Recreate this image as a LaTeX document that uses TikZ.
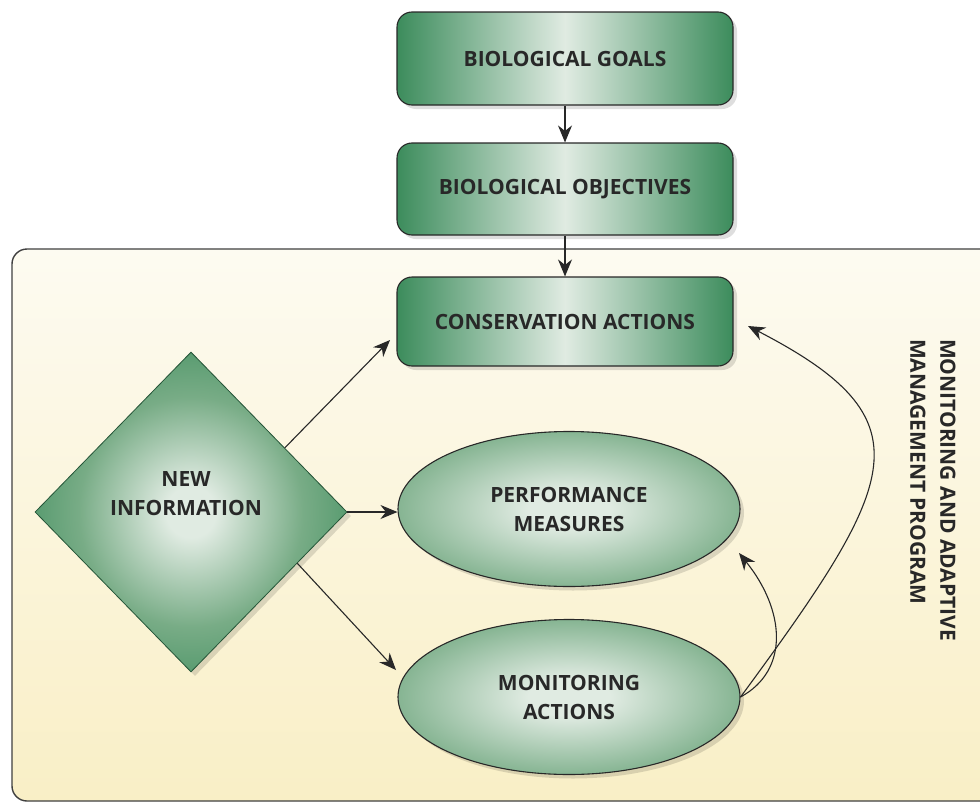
\documentclass[tikz,border=0pt]{standalone}
\usepackage{fontspec}
\setmainfont{Open Sans}
\usetikzlibrary{shapes.geometric,arrows.meta,shadows,calc}
\definecolor{gd}{RGB}{60,140,92}
\definecolor{gm}{RGB}{120,172,134}
\definecolor{gl}{RGB}{224,235,226}
\definecolor{panelTop}{RGB}{253,251,241}
\definecolor{panelBot}{RGB}{249,239,198}
\definecolor{ink}{RGB}{40,40,40}
\pgfdeclareradialshading{glowE}{\pgfpoint{0bp}{0bp}}{color(0bp)=(gl); color(6bp)=(gl); color(28bp)=(gm); color(50bp)=(gd)}
\pgfdeclareradialshading{glowD}{\pgfpoint{0bp}{0bp}}{color(0bp)=(gl); color(4bp)=(gl); color(18bp)=(gm); color(32bp)=(gd); color(50bp)=(gd)}
\newcommand{\lblfont}{\fontsize{21}{29}\selectfont\bfseries}
\tikzset{
  shad/.style={drop shadow={opacity=0.13,shadow xshift=4pt,shadow yshift=-4pt,fill=black}},
  box/.style={shad,draw=ink,line width=1.1pt,rounded corners=15pt,minimum width=336pt,inner sep=0pt,
    left color=gd,right color=gd,middle color=gl,font=\lblfont,text=ink},
  ell/.style={shad,ellipse,draw=ink,line width=1.1pt,minimum width=342pt,minimum height=155pt,inner sep=0pt,
    shade,shading=glowE,font=\lblfont,text=ink,align=center},
  dia/.style={shad,diamond,draw=gd!60!black,line width=0.8pt,minimum width=312pt,minimum height=320pt,inner sep=0pt,
    shade,shading=glowD},
  lbl/.style={font=\lblfont,text=ink,align=center},
  arr/.style={draw=ink,line width=1.1pt,-{Stealth[length=17pt,width=14pt,inset=5.5pt]}},
  panel/.style={draw=black!75,line width=1.4pt,rounded corners=15pt,top color=panelTop,bottom color=panelBot}
}
\begin{document}
\begin{tikzpicture}[x=1pt,y=-1pt]
\useasboundingbox (0,0) rectangle (980,803);
\clip (0,0) rectangle (980,803);
\fill[white] (0,0) rectangle (980,803);
\draw[panel] (12,249) rectangle (1010,801);
% boxes
\node[box,minimum height=93pt] (goals) at (565,58.5) {BIOLOGICAL GOALS};
\node[box,minimum height=92pt] (objs) at (565,189) {BIOLOGICAL OBJECTIVES};
\node[box,minimum height=89pt] (cons) at (565,321.5) {CONSERVATION ACTIONS};
% diamond
\node[dia] (info) at (191,512) {};
\node[lbl] (infotxt) at (186,494) {NEW\\INFORMATION};
% ellipses
\node[ell] (perf) at (569,509) {PERFORMANCE\\MEASURES};
\node[ell] (mon) at (569,697) {MONITORING\\ACTIONS};
% side label
\node[lbl,align=left,rotate=-90,font=\fontsize{21}{30}\selectfont\bfseries] (prog) at (933,490)
  {MONITORING AND ADAPTIVE\\MANAGEMENT PROGRAM};
% connectors
\draw[arr] (goals) -- (objs);
\draw[arr] (objs) -- (cons);
\coordinate (a1s) at ($(info.east)!0.4!(info.north)$);
\coordinate (a1e) at (390,340);
\draw[arr] (a1s) -- (a1e);
\draw[arr] (info.east) -- (info.east -| perf.west);
\coordinate (a3s) at ($(info.east)!0.32!(info.south)$);
\coordinate (a3e) at (396,670);
\draw[arr] (a3s) -- (a3e);
\coordinate (perfin) at (739,553);
\coordinate (consin) at (748,326);
\draw[arr] (mon.east) .. controls (790,670) and (785,610) .. (perfin);
\draw[arr] (mon.east) .. controls (900,480) and (930,420) .. (consin);
\end{tikzpicture}
\end{document}
